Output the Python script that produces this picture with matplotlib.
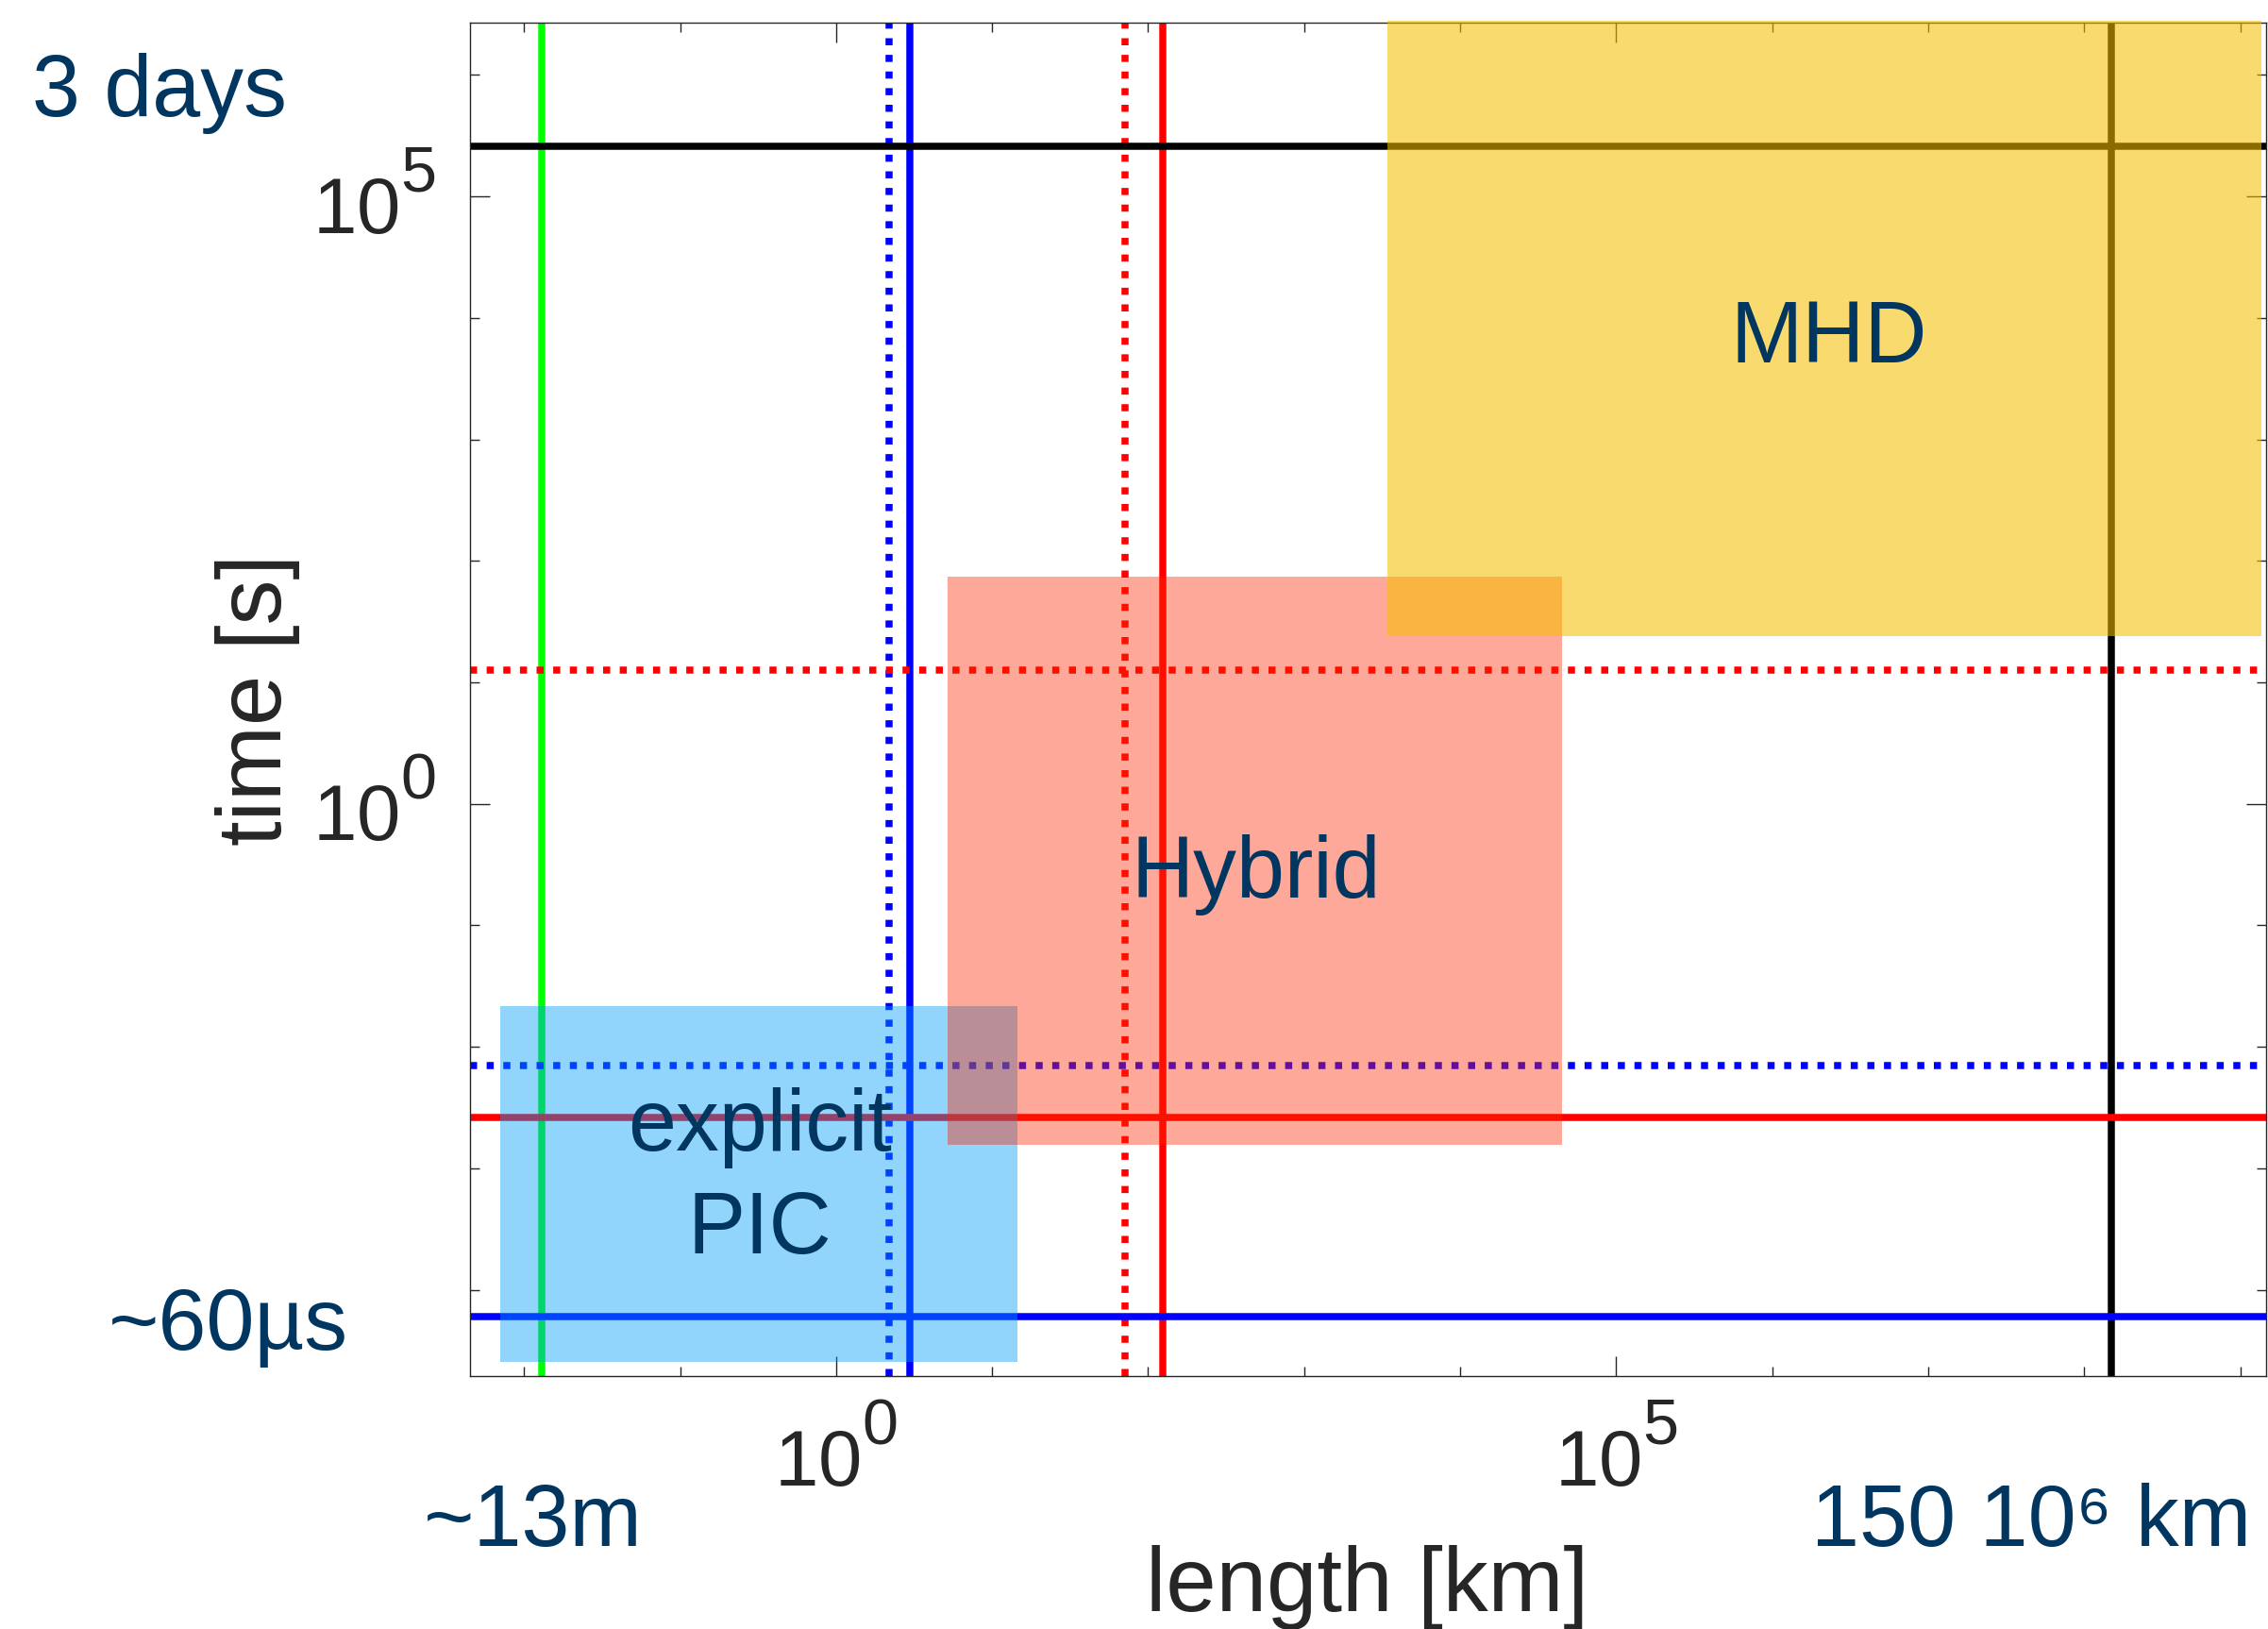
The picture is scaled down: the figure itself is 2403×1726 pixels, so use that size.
import matplotlib
matplotlib.use("Agg")
import matplotlib.pyplot as plt
import matplotlib._mathtext as mtext
from matplotlib.patches import Rectangle
from matplotlib.ticker import NullFormatter

# characteristic lengths [km] (vertical lines)
length_vals = [0.013, 2.2, 2.95, 71.0, 125.0, 1.5e8]
length_cols = ["#00ff00", "#0000ff", "#0000ff", "#ff0000", "#ff0000", "black"]
length_dotted = [False, True, False, True, False, False]

# characteristic times [s] (horizontal lines)
time_vals = [2.6e5, 12.5, 7.0e-3, 2.6e-3, 6.0e-5]
time_cols = ["black", "#ff0000", "#0000ff", "#ff0000", "#0000ff"]
time_dotted = [False, True, True, False, False]

# model regions: (length range, time range)
models = ["explicit PIC", "Hybrid", "MHD"]
model_len = [(7.0e-3, 14.5), (5.2, 4.5e4), (3.4e3, 1.36e9)]
model_time = [(2.55e-5, 2.15e-2), (1.56e-3, 74.6), (24.0, 2.8e6)]
model_cols = ["#009dfa", "#fa2600", "#f6be00"]
model_alpha = [0.43, 0.40, 0.57]

# region labels, (text, centre x, baseline y) in data units
region_labels = [("explicit", 0.325, 1.40e-3), ("PIC", 0.325, 2.0e-4),
                 ("Hybrid", 490.0, 0.169), ("MHD", 2.3e6, 4300.0)]

navy = "#003660"
grey = "#262626"
plt.rcParams["font.family"] = ["Liberation Sans", "DejaVu Sans"]
plt.rcParams["mathtext.fontset"] = "custom"
plt.rcParams["mathtext.rm"] = "Liberation Sans"
# matlab-like exponents: a bit larger and sitting higher
mtext.SHRINK_FACTOR = 0.82
mtext.FontConstantsBase.sup1 = 1.0

fig = plt.figure(figsize=(24.03, 17.26), dpi=100)
ax = fig.add_axes([0.2072, 0.1553, 0.7919, 0.8308])
ax.set_xscale("log")
ax.set_yscale("log")

for v, c, d in zip(length_vals, length_cols, length_dotted):
    ax.axvline(v, color=c, lw=5.4, ls=(0, (1, 1.35)) if d else "-", zorder=2)
for t, c, d in zip(time_vals, time_cols, time_dotted):
    ax.axhline(t, color=c, lw=5.4, ls=(0, (1, 1.35)) if d else "-", zorder=2)

for i, (xr, tr) in enumerate(zip(model_len, model_time)):
    rect = Rectangle((xr[0], tr[0]), xr[1] - xr[0], tr[1] - tr[0],
                     facecolor=model_cols[i], alpha=model_alpha[i],
                     edgecolor="none", zorder=3 + 0.1 * i)
    ax.add_patch(rect)
    if models[i] == "MHD":
        rect.set_clip_on(False)

for txt, x, y in region_labels:
    ax.text(x, y, txt, ha="center", va="baseline", fontsize=66,
            color=navy, zorder=5)

ax.set_xlim(10 ** -2.347, 10 ** 9.165)
ax.set_ylim(10 ** -4.71, 10 ** 6.43)

ax.set_xticks([1, 1e5])
ax.set_xticklabels([r"$\mathregular{10^{0}}$", r"$\mathregular{10^{5}}$"])
ax.set_xticks([10.0 ** k for k in range(-2, 10) if k not in (0, 5)], minor=True)
ax.set_yticks([1, 1e5])
ax.set_yticklabels([r"$\mathregular{10^{0}}$", r"$\mathregular{10^{5}}$"])
ax.set_yticks([10.0 ** k for k in range(-4, 7) if k not in (0, 5)], minor=True)
ax.xaxis.set_minor_formatter(NullFormatter())
ax.yaxis.set_minor_formatter(NullFormatter())

ax.tick_params(which="both", direction="in", top=True, right=True,
               colors=grey, width=1.0)
ax.tick_params(which="major", length=15, labelsize=60)
ax.tick_params(which="minor", length=7.2)
ax.tick_params(axis="x", which="major", pad=27)
ax.tick_params(axis="y", which="major", pad=26)
for s in ax.spines.values():
    s.set_color(grey)
    s.set_linewidth(1.0)

ax.set_xlabel("length [km]", fontsize=69, color=grey)
ax.set_ylabel("time [s]", fontsize=69, color=grey)
ax.xaxis.set_label_coords(0.4997, -0.1248)
ax.yaxis.set_label_coords(-0.0946, 0.5)

# annotations outside the axes
fig.text(0.01415, 0.92845, "3 days", fontsize=66, color=navy, va="baseline")
fig.text(0.04786, 0.17149, "~60µs", fontsize=66, color=navy, va="baseline")
fig.text(0.1869, 0.0510, "~13m", fontsize=66, color=navy, va="baseline")
fig.text(0.7986, 0.0510, "150 10⁶ km", fontsize=66, color=navy,
         va="baseline")

fig.savefig("out.png", dpi=100)
